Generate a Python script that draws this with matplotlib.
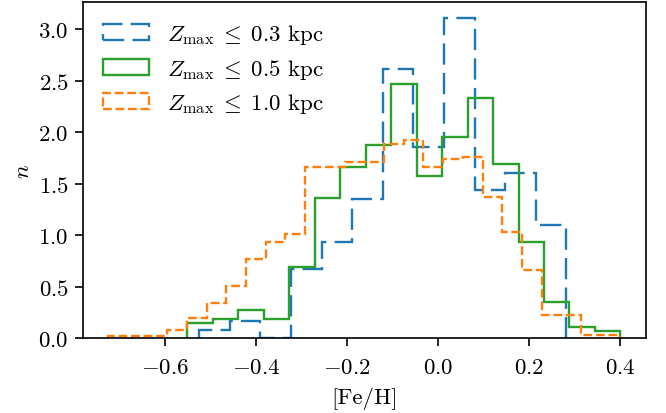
import numpy as np
import matplotlib
matplotlib.use("Agg")
import matplotlib.pyplot as plt

plt.rcParams["font.family"] = "serif"
plt.rcParams["font.serif"] = ["cmr10"]
plt.rcParams["mathtext.fontset"] = "cm"
plt.rcParams["axes.formatter.use_mathtext"] = True

# normalised [Fe/H] histograms, one per Zmax cut (bin range and count per sample)
labels = [r"$Z_\mathrm{max} \;\leq\; 0.3$ kpc",
          r"$Z_\mathrm{max} \;\leq\; 0.5$ kpc",
          r"$Z_\mathrm{max} \;\leq\; 1.0$ kpc"]

feh_range_03 = (-0.525, 0.282)
n_03 = [0.08, 0.173, 0.0, 0.677, 0.934, 1.351, 2.612, 1.86, 3.113, 1.438,
        1.61, 1.099]

feh_range_05 = (-0.551, 0.401)
n_05 = [0.155, 0.185, 0.275, 0.19, 0.695, 1.36, 1.66, 1.875, 2.465, 1.575,
        1.955, 2.335, 1.69, 0.94, 0.35, 0.113, 0.075]

feh_range_10 = (-0.725, 0.401)
n_10 = [0.02, 0.02, 0.02, 0.08, 0.195, 0.34, 0.51, 0.775, 0.94, 1.01,
        1.665, 1.665, 1.71, 1.71, 1.885, 1.93, 1.66, 1.745, 1.765, 1.37,
        1.03, 0.666, 0.226, 0.226, 0.03, 0.03]

samples = [(feh_range_03, n_03, "tab:blue", (0, (9, 3.5))),
           (feh_range_05, n_05, "tab:green", "-"),
           (feh_range_10, n_10, "tab:orange", "--")]

fig = plt.figure(figsize=(6.66, 4.14), dpi=100)
ax = fig.add_axes([0.124, 0.180, 0.846, 0.8135])

for (rng, n, color, ls), lab in zip(samples, labels):
    edges = np.linspace(rng[0], rng[1], len(n) + 1)
    centres = 0.5 * (edges[:-1] + edges[1:])
    ax.hist(centres, bins=edges, weights=n, histtype="step", color=color,
            linestyle=ls, linewidth=1.7, label=lab)

for sp in ax.spines.values():
    sp.set_linewidth(1.2)

ax.set_xticks([-0.6, -0.4, -0.2, 0.0, 0.2, 0.4])
ax.set_yticks([0.0, 0.5, 1.0, 1.5, 2.0, 2.5, 3.0])
ax.tick_params(labelsize=16.5, length=5.5, width=1.2, pad=4.5)
ax.tick_params(axis="x", pad=8)
ax.set_xlabel("[Fe/H]", fontsize=16.5, labelpad=7)
ax.set_ylabel(r"$n$", fontsize=16.5, labelpad=4)
ax.legend(loc="upper left", frameon=False, fontsize=16.5,
          handlelength=2.0, handleheight=0.7, labelspacing=0.45)

fig.savefig("out.png", dpi=100)
